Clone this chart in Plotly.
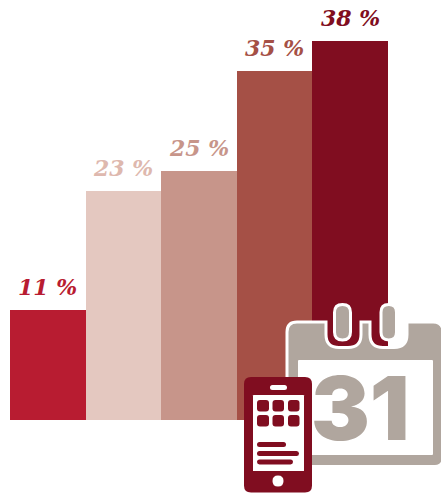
import plotly.graph_objects as go

WIDTH, HEIGHT = 441, 493

# Share of respondents per group, lowest to highest
categories = ["A", "B", "C", "D", "E"]
values = [11, 23, 25, 35, 38]
bar_colors = ["#b81c31", "#e4c8c0", "#c7958a", "#a55046", "#800d20"]
label_colors = ["#b81c31", "#deb8ae", "#c7958a", "#a55046", "#800d20"]

CALENDAR_GREY = "#b0a69e"
PHONE_RED = "#800d20"


def pt(x, y):
    """Pixel position on the page to paper coordinates."""
    return f"{x / WIDTH:.5f},{1 - y / HEIGHT:.5f}"


def rounded_rect(x0, y0, x1, y1, r):
    return (
        f"M{pt(x0 + r, y0)} L{pt(x1 - r, y0)} Q{pt(x1, y0)} {pt(x1, y0 + r)} "
        f"L{pt(x1, y1 - r)} Q{pt(x1, y1)} {pt(x1 - r, y1)} "
        f"L{pt(x0 + r, y1)} Q{pt(x0, y1)} {pt(x0, y1 - r)} "
        f"L{pt(x0, y0 + r)} Q{pt(x0, y0)} {pt(x0 + r, y0)} Z"
    )


def icon(path, fill, line_color=None, line_width=0):
    return dict(
        type="path", xref="paper", yref="paper", path=path, fillcolor=fill,
        line=dict(color=line_color or fill, width=line_width), layer="above",
    )


def notch(x0, x1, top, bottom):
    r = 13
    return (
        f"L{pt(x0, top)} L{pt(x0, bottom - r)} Q{pt(x0, bottom)} {pt(x0 + r, bottom)} "
        f"L{pt(x1 - r, bottom)} Q{pt(x1, bottom)} {pt(x1, bottom - r)} L{pt(x1, top)} "
    )


# Calendar: sheet with two binding notches, rings, white page
cal_top, cal_left, cal_right, cal_bottom = 322, 287, 443, 466.5
calendar_outline = (
    f"M{pt(cal_left, cal_top + 10)} Q{pt(cal_left, cal_top)} {pt(cal_left + 10, cal_top)} "
    + notch(326, 361, cal_top, 347.5)
    + notch(370, 407, cal_top, 347.5)
    + f"L{pt(cal_right - 10, cal_top)} Q{pt(cal_right, cal_top)} {pt(cal_right, cal_top + 10)} "
    f"L{pt(cal_right, cal_bottom - 8)} Q{pt(cal_right, cal_bottom)} {pt(cal_right - 8, cal_bottom)} "
    f"L{pt(cal_left + 8, cal_bottom)} Q{pt(cal_left, cal_bottom)} {pt(cal_left, cal_bottom - 8)} Z"
)

shapes = [
    icon(calendar_outline, CALENDAR_GREY, "white", 3),
    icon(rounded_rect(334.5, 304.5, 350.5, 340, 8), CALENDAR_GREY, "white", 3),
    icon(rounded_rect(381, 304.5, 396.5, 340, 7.7), CALENDAR_GREY, "white", 3),
    icon(rounded_rect(298, 360, 433, 455, 1), "white"),
    # Phone body, screen, speaker and home button
    icon(rounded_rect(244, 377, 312, 492.5, 7), PHONE_RED),
    icon(rounded_rect(253, 395, 304, 471, 0.5), "white"),
    icon(rounded_rect(270, 385, 287, 390, 2.5), "white"),
    icon(rounded_rect(272.5, 475.5, 283.5, 486.5, 5.5), "white"),
]

# Phone screen: app tiles and text lines
for ty0, ty1 in [(400, 411.5), (415, 426.5)]:
    for tx0, tx1 in [(257, 269), (272.5, 284), (288, 299.5)]:
        shapes.append(icon(rounded_rect(tx0, ty0, tx1, ty1, 3), PHONE_RED))
for ly0, ly1, lx1 in [(442, 447, 286), (451, 456, 299), (459.5, 464.5, 293)]:
    shapes.append(icon(rounded_rect(257, ly0, lx1, ly1, 2.5), PHONE_RED))

fig = go.Figure(
    go.Bar(
        x=categories,
        y=values,
        marker=dict(color=bar_colors, line=dict(width=0)),
        width=1,
        hoverinfo="skip",
    )
)

annotations = [
    dict(
        x=cat, y=val, xref="x", yref="y", text=f"{val} %", showarrow=False,
        xanchor="center", yanchor="bottom", yshift=8,
        font=dict(family="DejaVu Serif", size=22, color=col, weight="bold", style="italic"),
    )
    for cat, val, col in zip(categories, values, label_colors)
]
annotations.append(
    dict(
        x=360.5 / WIDTH, y=1 - 407.5 / HEIGHT, xref="paper", yref="paper", text="31",
        showarrow=False, xanchor="center", yanchor="middle",
        font=dict(family="Inter", size=88, color=CALENDAR_GREY, weight=900),
    )
)

fig.update_layout(
    width=WIDTH,
    height=HEIGHT,
    autosize=False,
    margin=dict(l=0, r=0, t=0, b=0),
    paper_bgcolor="white",
    plot_bgcolor="white",
    showlegend=False,
    bargap=0,
    shapes=shapes,
    annotations=annotations,
    xaxis=dict(domain=[10 / WIDTH, 388 / WIDTH], range=[-0.5, 4.5], visible=False),
    yaxis=dict(domain=[1 - 420 / HEIGHT, 1], range=[0, 42.13], visible=False),
)

fig.write_html("out.html", config=dict(displayModeBar=False))
